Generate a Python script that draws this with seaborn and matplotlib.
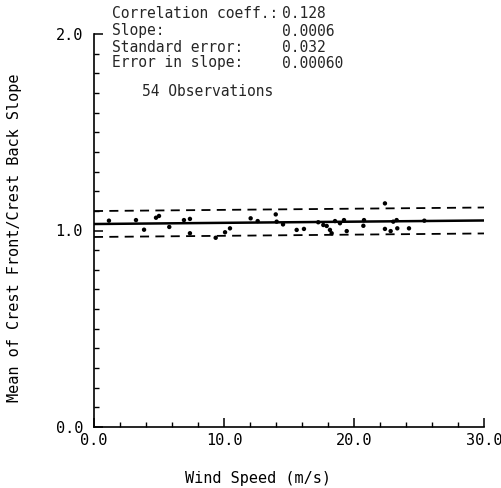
import numpy as np
import pandas as pd
import matplotlib
matplotlib.use("Agg")
import matplotlib.pyplot as plt
import seaborn as sns
from matplotlib.ticker import MultipleLocator, FixedLocator

# ---- data ----
wind_speed = [1.15, 3.23, 3.85, 4.77, 5.00, 5.79, 6.92, 7.38, 7.38, 9.36,
              10.08, 10.46, 12.05, 12.59, 13.98, 14.05, 14.54, 15.59, 16.15, 17.25,
              17.64, 17.90, 18.15, 18.28, 18.54, 18.92, 19.23, 19.44, 20.77, 20.72,
              22.38, 22.38, 22.82, 23.02, 23.28, 23.33, 24.23, 25.41]
slope_ratio = [1.050, 1.053, 1.004, 1.065, 1.074, 1.018, 1.053, 1.059, 0.986, 0.963,
               0.991, 1.011, 1.062, 1.048, 1.082, 1.045, 1.031, 1.003, 1.008, 1.042,
               1.028, 1.023, 1.003, 0.986, 1.048, 1.037, 1.053, 0.997, 1.053, 1.024,
               1.138, 1.008, 0.997, 1.045, 1.053, 1.011, 1.011, 1.050]
fit_intercept = 1.033
fit_slope = 0.0006
band_halfwidth = 0.066
fit_x = [0.0, 30.0]

stat_labels = ["Correlation coeff.:", "Slope:", "Standard error:", "Error in slope:"]
stat_values = ["0.128", "0.0006", "0.032", "0.00060"]
n_obs_text = "54 Observations"
x_ticklabels = ["0.0", "10.0", "20.0", "30.0"]
y_ticklabels = ["0.0", "1.0", "2.0"]

sns.set_theme(style="white")
plt.rcParams['font.family'] = ['DejaVu Sans Mono', 'DejaVu Sans']
FS = 11
FS_STATS = 10.5

W, H = 502, 488
fig = plt.figure(figsize=(W / 100, H / 100), dpi=100)
ax_l, ax_r, ax_b, ax_t = 94, 484, 427, 34
ax = fig.add_axes([ax_l / W, 1 - ax_b / H, (ax_r - ax_l) / W, (ax_b - ax_t) / H])

pts = pd.DataFrame({"x": wind_speed, "y": slope_ratio})
sns.scatterplot(data=pts, x="x", y="y", ax=ax, color="black", s=10,
                edgecolor="none", legend=False, zorder=3)

fx = np.array(fit_x)
fy = fit_intercept + fit_slope * fx
fit = pd.DataFrame({"x": np.concatenate([fx, fx, fx]),
                    "y": np.concatenate([fy, fy + band_halfwidth, fy - band_halfwidth]),
                    "kind": ["fit"] * 2 + ["up"] * 2 + ["lo"] * 2})
sns.lineplot(data=fit[fit.kind == "fit"], x="x", y="y", ax=ax, color="black", lw=1.8)
for k in ["up", "lo"]:
    sns.lineplot(data=fit[fit.kind == k], x="x", y="y", ax=ax, color="black",
                 lw=1.3, linestyle=(0, (5, 3.5)))

ax.set_xlim(0, 30)
ax.set_ylim(0, 2.0)
for s in ["top", "right"]:
    ax.spines[s].set_visible(False)
for s in ["left", "bottom"]:
    ax.spines[s].set_color("black")
    ax.spines[s].set_linewidth(1.2)

ax.xaxis.set_major_locator(FixedLocator([0, 10, 20, 30]))
ax.xaxis.set_minor_locator(MultipleLocator(2))
ax.yaxis.set_major_locator(FixedLocator([0, 1, 2]))
ax.yaxis.set_minor_locator(MultipleLocator(0.1))
ax.set_xticklabels(x_ticklabels)
ax.set_yticklabels(y_ticklabels)
ax.tick_params(which="major", direction="in", length=6.5, width=1.1, color="black",
               labelsize=FS, bottom=True, left=True, labelcolor="black")
ax.tick_params(which="minor", direction="in", length=3.5, width=1.0, color="black",
               bottom=True, left=True)
ax.tick_params(axis="x", pad=4)
ax.tick_params(axis="y", pad=8)

ax.set_xlabel("Wind Speed (m/s)", fontsize=FS, color="black", va="center")
ax.set_ylabel("Mean of Crest Front/Crest Back Slope", fontsize=FS, color="black",
              va="center")
ax.xaxis.set_label_coords((258 - ax_l) / (ax_r - ax_l), (ax_b - 479) / (ax_b - ax_t))
ax.yaxis.set_label_coords((15 - ax_l) / (ax_r - ax_l), (ax_b - 238) / (ax_b - ax_t))

rows_y = [14, 31, 47, 63]
for lab, val, yp in zip(stat_labels, stat_values, rows_y):
    fig.text(112 / W, 1 - yp / H, lab, fontsize=FS_STATS, va="center", ha="left")
    fig.text(282 / W, 1 - yp / H, val, fontsize=FS_STATS, va="center", ha="left")
fig.text(142 / W, 1 - 92 / H, n_obs_text, fontsize=FS_STATS, va="center", ha="left")

fig.savefig("out.png", dpi=100)
